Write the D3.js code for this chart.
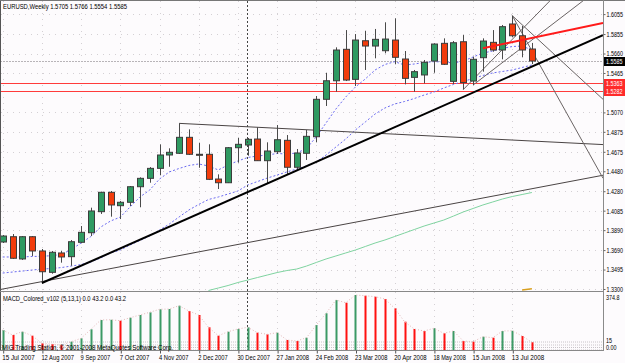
<!DOCTYPE html>
<html>
<head>
<meta charset="utf-8">
<script src="https://cdn.jsdelivr.net/npm/d3@7"></script>
<style>
body { margin: 0; background: #fdfbfd; }
svg { display: block; }
text { font-family: "Liberation Sans", Arial, sans-serif; font-size: 7.5px; fill: #000; }
</style>
</head>
<body>
<div id="chart"></div>
<script>
// weekly EURUSD bars, first bar = week of 15 Jul 2007
var dateLabels = ["15 Jul 2007", "12 Aug 2007", "9 Sep 2007", "7 Oct 2007", "4 Nov 2007", "2 Dec 2007",
  "30 Dec 2007", "27 Jan 2008", "24 Feb 2008", "23 Mar 2008", "20 Apr 2008", "18 May 2008", "15 Jun 2008", "13 Jul 2008"];

var open = [1.3771,1.3824,1.3601,1.3824,1.3681,1.3467,1.3661,1.3624,1.3768,1.3864,
  1.4075,1.4269,1.4135,1.4169,1.4325,1.4409,1.4509,1.4643,1.4660,1.4820,
  1.4650,1.4650,1.4402,1.4365,1.4716,1.4743,1.4803,1.4586,1.4676,1.4790,
  1.4520,1.4660,1.4826,1.5201,1.5387,1.5702,1.5401,1.5788,1.5735,1.5688,
  1.5795,1.5605,1.5421,1.5445,1.5585,1.5762,1.5381,1.5778,1.5384,1.5618,
  1.5772,1.5695,1.5956,1.5838,1.5705];
var high = [1.3841,1.3851,1.3831,1.3831,1.3701,1.3681,1.3681,1.3791,1.3931,1.4115,
  1.4275,1.4282,1.4182,1.4332,1.4419,1.4522,1.4750,1.4710,1.4960,1.4900,
  1.4766,1.4750,1.4449,1.4723,1.4816,1.4813,1.4920,1.4770,1.4943,1.4843,
  1.4703,1.4893,1.5234,1.5467,1.5722,1.5895,1.5855,1.5888,1.5906,1.5973,
  1.6013,1.5685,1.5495,1.5595,1.5762,1.5812,1.5785,1.5845,1.5628,1.5812,
  1.5895,1.5946,1.6039,1.5936,1.5766];
var low = [1.3761,1.3601,1.3591,1.3631,1.3357,1.3453,1.3564,1.3533,1.3758,1.3831,
  1.4052,1.4025,1.4001,1.4132,1.4119,1.4365,1.4442,1.4525,1.4653,1.4643,
  1.4515,1.4392,1.4302,1.4362,1.4566,1.4636,1.4583,1.4359,1.4653,1.4452,
  1.4493,1.4593,1.4770,1.5134,1.5277,1.5384,1.5334,1.5495,1.5612,1.5662,
  1.5552,1.5351,1.5277,1.5361,1.5467,1.5545,1.5354,1.5299,1.5344,1.5478,
  1.5678,1.5602,1.5825,1.5622,1.5554];
var close = [1.3831,1.3608,1.3824,1.3681,1.3473,1.3668,1.3621,1.3774,1.3868,1.4082,
  1.4269,1.4142,1.4169,1.4325,1.4409,1.4509,1.4643,1.4670,1.4820,1.4650,
  1.4648,1.4399,1.4365,1.4716,1.4750,1.4800,1.4586,1.4683,1.4796,1.4520,
  1.4663,1.4830,1.5201,1.5387,1.5695,1.5394,1.5795,1.5735,1.5802,1.5805,
  1.5622,1.5411,1.5478,1.5572,1.5755,1.5552,1.5768,1.5369,1.5602,1.5785,
  1.5695,1.5929,1.5838,1.5695,1.5585];

// moving averages
var maFast = [1.3621,1.3621,1.3621,1.3626,1.3628,1.3634,1.3646,1.3696,1.3761,1.3826,
  1.3921,1.3981,1.4021,1.4122,1.4222,1.4292,1.4402,1.4473,1.4508,1.4538,
  1.4553,1.4533,1.4493,1.4543,1.4583,1.4618,1.4633,1.4643,1.4658,1.4653,
  1.4663,1.4708,1.4825,1.4965,1.5104,1.5224,1.5325,1.5405,1.5495,1.5550,
  1.5578,1.5545,1.5555,1.5570,1.5578,1.5575,1.5565,1.5585,1.5625,1.5665,
  1.5685,1.5712,1.5730,1.5735,1.5695];
var maSlow = [1.3460,1.3470,1.3480,1.3490,1.3500,1.3505,1.3515,1.3530,1.3545,1.3571,
  1.3611,1.3661,1.3691,1.3741,1.3786,1.3831,1.3891,1.3951,1.4022,1.4092,
  1.4147,1.4197,1.4222,1.4252,1.4282,1.4342,1.4377,1.4412,1.4442,1.4473,
  1.4503,1.4533,1.4573,1.4643,1.4723,1.4803,1.4894,1.4974,1.5054,1.5114,
  1.5154,1.5179,1.5209,1.5244,1.5274,1.5314,1.5350,1.5380,1.5410,1.5440,
  1.5465,1.5480,1.5495,1.5520,1.5545];
var maLongStart = 21;
var maLong = [1.3285,1.3310,1.3335,1.3365,1.3390,1.3415,1.3440,1.3465,1.3485,1.3500,
  1.3530,1.3566,1.3601,1.3631,1.3661,1.3691,1.3726,1.3761,1.3791,1.3826,
  1.3861,1.3896,1.3931,1.3961,1.3991,1.4031,1.4072,1.4107,1.4142,1.4172,
  1.4202,1.4227,1.4247,1.4267];
var maLongerStart = 53;
var maLonger = [1.3290, 1.3302];

var macd = [136.3,102.2,124.7,97.5,45.7,40,34,56.6,79.7,141.1,
  204.5,206,199.7,220.1,238.5,256.9,277.4,279.4,301.9,265.8,
  238.5,154.7,97.5,124.7,143.1,154.7,117.9,107,117.9,68.2,
  61.3,83.8,170.4,250.1,340.8,322.3,374.8,370,363.2,347.6,
  284.2,192.9,143.1,129.5,147.9,113.8,129.5,61.3,56.6,90.6,
  83.8,129.5,131,95.4,52.5];

var priceTicks = [1.6055,1.5855,1.5660,1.5465,1.5070,1.4875,1.4675,1.4480,1.4280,1.4085,1.3890,1.3690,1.3495,1.3300];
var levels = [1.5363, 1.5282];
var lastPrice = 1.5585;

// drawn objects: [barIndex, price] anchors
var trendMain = [[4, 1.3360], [54, 1.5529]];
var trendLow = [[4, 1.3374], [54, 1.4305]];
var trendTop = [[18, 1.4960], [54, 1.4783]];
var trendRed = [[49, 1.5712], [54, 1.5816]];
var fanDownA = [[52, 1.6039], [54, 1.5687]];
var fanDownB = [[52, 1.6039], [54, 1.5858]];
var fanUpA = [[47, 1.5299], [52, 1.5802]];
var fanUpB = [[48, 1.5344], [52, 1.5645]];

var W = 625, H = 363, xR = 603, mainBottom = 291, macdTop = 292, macdBase = 350;
var squeeze = 0.72; // narrow axis font

var svg = d3.select("#chart").append("svg").attr("width", W).attr("height", H);
svg.append("rect").attr("width", W).attr("height", H).attr("fill", "#fdfbfd");

var x = d3.scaleLinear().domain([0, 54]).range([2.7, 531.9]);
var y = d3.scaleLinear().domain([1.3300, 1.6055]).range([289, 14.1]);
var ym = d3.scaleLinear().domain([0, 374.8]).range([macdBase, 295]);

var defs = svg.append("defs");
defs.append("clipPath").attr("id", "clipMain").append("rect")
  .attr("x", 1).attr("y", 1).attr("width", xR - 1).attr("height", mainBottom - 1);
defs.append("clipPath").attr("id", "clipMacd").append("rect")
  .attr("x", 1).attr("y", macdTop).attr("width", xR - 1).attr("height", macdBase - macdTop + 1);

// grid
var grid = svg.append("g").attr("stroke", "#d4d0d4").attr("stroke-dasharray", "1,5");
priceTicks.forEach(function(p) {
  grid.append("line").attr("x1", 1).attr("x2", xR).attr("y1", Math.round(y(p)) + 0.5).attr("y2", Math.round(y(p)) + 0.5);
});
dateLabels.forEach(function(d, k) {
  var xx = Math.round(x(k * 4)) + 0.5;
  grid.append("line").attr("x1", xx).attr("x2", xx).attr("y1", 1).attr("y2", mainBottom);
  grid.append("line").attr("x1", xx).attr("x2", xx).attr("y1", macdTop).attr("y2", macdBase);
});

var main = svg.append("g").attr("clip-path", "url(#clipMain)");

// horizontal levels
levels.forEach(function(p) {
  main.append("line").attr("x1", 0).attr("x2", xR)
    .attr("y1", Math.round(y(p)) + 0.5).attr("y2", Math.round(y(p)) + 0.5)
    .attr("stroke", "#ff3b3b").attr("stroke-width", 1);
});
main.append("line").attr("x1", 0).attr("x2", xR)
  .attr("y1", Math.round(y(lastPrice)) + 0.5).attr("y2", Math.round(y(lastPrice)) + 0.5)
  .attr("stroke", "#b8b4b8").attr("stroke-dasharray", "2,1");

// vertical dotted separator
svg.append("line").attr("x1", 247.5).attr("x2", 247.5).attr("y1", 1).attr("y2", macdBase)
  .attr("stroke", "#444").attr("stroke-dasharray", "2,2");

// moving averages
var maLine = d3.line().x(function(d) { return x(d[0]); }).y(function(d) { return y(d[1]); });
main.append("path").datum(maLong.map(function(v, i) { return [i + maLongStart, v]; }))
  .attr("d", maLine).attr("fill", "none").attr("stroke", "#7fd3a0").attr("stroke-width", 1);
main.append("path").datum(maLonger.map(function(v, i) { return [i + maLongerStart, v]; }))
  .attr("d", maLine).attr("fill", "none").attr("stroke", "#d9a020").attr("stroke-width", 1.5);
[maSlow, maFast].forEach(function(ma) {
  main.append("path").datum(ma.map(function(v, i) { return [i, v]; }))
    .attr("d", maLine).attr("fill", "none").attr("stroke", "#6a6af0")
    .attr("stroke-width", 1).attr("stroke-dasharray", "2,2");
});

// trend lines
function trend(a, b, left, right) {
  var x1 = x(a[0]), y1 = y(a[1]), x2 = x(b[0]), y2 = y(b[1]);
  var k = (y2 - y1) / (x2 - x1);
  var xs = left ? 0 : x1, xe = right ? xR : x2;
  return "M" + xs + "," + (y1 + k * (xs - x1)) + "L" + xe + "," + (y1 + k * (xe - x1));
}
main.append("path").attr("d", trend(trendLow[0], trendLow[1], true, true))
  .attr("stroke", "#4a4444").attr("stroke-width", 1).attr("fill", "none");
main.append("path").attr("d", trend(trendTop[0], trendTop[1], false, true))
  .attr("stroke", "#4a4444").attr("stroke-width", 1).attr("fill", "none");
[fanDownA, fanDownB, fanUpA, fanUpB].forEach(function(t) {
  main.append("path").attr("d", trend(t[0], t[1], false, true))
    .attr("stroke", "#6a6464").attr("stroke-width", 1).attr("fill", "none");
});

// candles
var bars = d3.range(open.length);
var candle = main.selectAll("g.candle").data(bars).enter().append("g").attr("class", "candle");
candle.append("line")
  .attr("x1", function(i) { return Math.round(x(i)) + 0.5; })
  .attr("x2", function(i) { return Math.round(x(i)) + 0.5; })
  .attr("y1", function(i) { return y(high[i]); })
  .attr("y2", function(i) { return y(low[i]); })
  .attr("stroke", "#4a4a4a");
candle.append("rect")
  .attr("x", function(i) { return Math.round(x(i)) - 2.5; })
  .attr("width", 6)
  .attr("y", function(i) { return y(Math.max(open[i], close[i])); })
  .attr("height", function(i) { return Math.max(1, Math.abs(y(open[i]) - y(close[i]))); })
  .attr("fill", function(i) { return close[i] >= open[i] ? "#2f9a62" : "#f23c0c"; })
  .attr("stroke", "#3c3c3c").attr("stroke-width", 1);

main.append("path").attr("d", trend(trendMain[0], trendMain[1], false, true))
  .attr("stroke", "#000").attr("stroke-width", 2).attr("fill", "none");
main.append("path").attr("d", trend(trendRed[0], trendRed[1], false, true))
  .attr("stroke", "#ff1a1a").attr("stroke-width", 2).attr("fill", "none");

// MACD panel
var mp = svg.append("g").attr("clip-path", "url(#clipMacd)");
[342, 345, 347.5, 350].forEach(function(v) {
  mp.append("line").attr("x1", 1).attr("x2", xR).attr("y1", v).attr("y2", v)
    .attr("stroke", "#c8c4c8").attr("stroke-dasharray", "1,1");
});
mp.selectAll("rect.h").data(bars).enter().append("rect").attr("class", "h")
  .attr("x", function(i) { return Math.round(x(i)) - 0.5; })
  .attr("width", 2)
  .attr("y", function(i) { return ym(macd[i]); })
  .attr("height", function(i) { return macdBase - ym(macd[i]); })
  .attr("fill", function(i) { return i === 0 || macd[i] >= macd[i - 1] ? "#3c9a66" : "#ff1010"; });
mp.append("path").datum(bars)
  .attr("d", d3.line().x(function(i) { return x(i); }).y(function(i) { return ym(macd[i]); }))
  .attr("fill", "none").attr("stroke", "#e3b8b8").attr("stroke-dasharray", "1,2");

// frames
svg.append("line").attr("x1", 0.5).attr("x2", 0.5).attr("y1", 0).attr("y2", macdBase + 1).attr("stroke", "#555");
svg.append("line").attr("x1", 0).attr("x2", W).attr("y1", 0.5).attr("y2", 0.5).attr("stroke", "#777");
svg.append("line").attr("x1", 0).attr("x2", xR + 1).attr("y1", mainBottom + 0.5).attr("y2", mainBottom + 0.5).attr("stroke", "#888");
svg.append("line").attr("x1", 0).attr("x2", xR + 1).attr("y1", macdBase + 0.5).attr("y2", macdBase + 0.5).attr("stroke", "#888");

// price axis
var yAxis = svg.append("g").attr("transform", "translate(" + (xR + 0.5) + ",0)")
  .call(d3.axisRight(y).tickValues(priceTicks).tickFormat(d3.format(".4f")).tickSize(2).tickPadding(1));
yAxis.select(".domain").attr("stroke", "#8a8a8a").attr("d", "M0,0V" + (macdBase + 1));
yAxis.selectAll(".tick line").attr("stroke", "#666");
yAxis.selectAll("text").style("font-size", "7.5px")
  .attr("x", 3 / squeeze).attr("transform", "scale(" + squeeze + ",1)");

// right side labels in a narrow font
function sideText(x0, y0, s, color) {
  return svg.append("text").attr("transform", "translate(" + x0 + "," + y0 + ") scale(" + squeeze + ",1)")
    .style("font-size", "7.5px").style("fill", color || "#000").text(s);
}
sideText(606, 300, "374.8");
sideText(606, 343, "15");
sideText(606, 350, "0.00");

// price boxes
function priceBox(p, fill) {
  var yy = Math.round(y(p));
  svg.append("rect").attr("x", xR + 1).attr("y", yy - 4).attr("width", 21).attr("height", 9).attr("fill", fill);
  sideText(xR + 3, yy + 3, d3.format(".4f")(p), "#fff");
}
priceBox(lastPrice, "#000");
levels.forEach(function(p) { priceBox(p, "#ff2a2a"); });

// date axis
var xAxis = svg.append("g").attr("transform", "translate(0," + (macdBase + 0.5) + ")")
  .call(d3.axisBottom(x).tickValues(d3.range(0, 53, 4)).tickSize(3)
    .tickFormat(function(i) { return dateLabels[i / 4]; }));
xAxis.select(".domain").remove();
xAxis.selectAll(".tick line").attr("stroke", "#555").attr("transform", "translate(0.5,0)");
xAxis.selectAll("text").attr("text-anchor", "start").attr("dx", -1).attr("y", 5)
  .style("font-size", "7px")
  .attr("textLength", function(i) { return dateLabels[i / 4].length * 2.95; })
  .attr("lengthAdjust", "spacingAndGlyphs");

// titles
svg.append("text").attr("x", 3).attr("y", 9).attr("textLength", 124).attr("lengthAdjust", "spacingAndGlyphs")
  .text("EURUSD,Weekly  1.5705 1.5766 1.5554 1.5585");
svg.append("text").attr("x", 3).attr("y", 301).attr("textLength", 123).attr("lengthAdjust", "spacingAndGlyphs")
  .text("MACD_Colored_v102 (5,13,1) 0.0 43.2 0.0 43.2");
svg.append("text").attr("x", 2).attr("y", 350).attr("textLength", 171).attr("lengthAdjust", "spacingAndGlyphs")
  .text("MIG Trading Station, \u00a9 2001-2008 MetaQuotes Software Corp.");
</script>
</body>
</html>
